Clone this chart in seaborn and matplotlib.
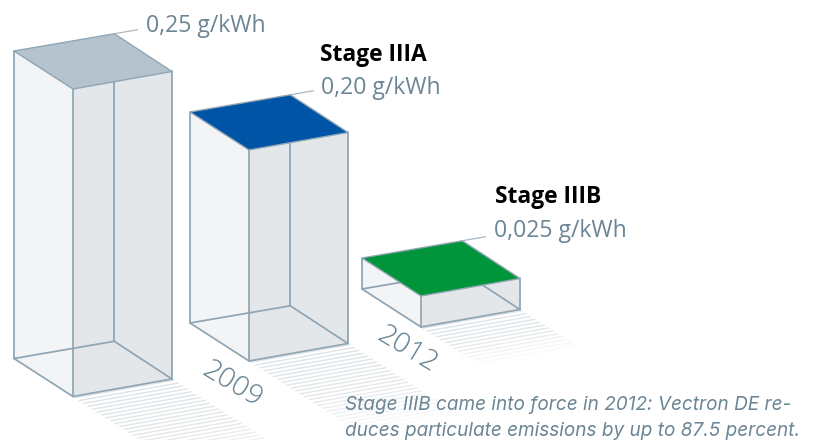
import numpy as np
import pandas as pd
import matplotlib
matplotlib.use("Agg")
import matplotlib.pyplot as plt
from matplotlib.colors import LinearSegmentedColormap
import seaborn as sns

# Particulate limits per emission stage
stage_names = ["", "Stage IIIA", "Stage IIIB"]
limits = [0.25, 0.20, 0.025]
limit_labels = ["0,25 g/kWh", "0,20 g/kWh", "0,025 g/kWh"]
year_labels = ["2009", "2012"]
note_lines = [
    "Stage IIIB came into force in 2012: Vectron DE re-",
    "duces particulate emissions by up to 87.5 percent.",
]

# Illustrative (not linear) height scale of the columns, in pixels
scale_limits = [0.0, 0.025, 0.20, 0.25]
scale_heights = [0.0, 31.0, 211.0, 307.5]

# Isometric layout: left floor corner of each column and the floor edge vectors
floor_corners = [(14.0, 358.5), (190.0, 323.0), (362.0, 289.0)]
edge_u = np.array([59.0, 38.0])
edge_v = np.array([99.0, -17.5])
back_shift = np.array([1.3, 0.3])
shadow_depth = [2.3, 2.0, 1.05]

# Text offsets measured from the top back corner of each column
value_offsets = [(32, -2), (31, -1), (32, -4)]
stage_offsets = [(0, 0), (30, -34), (33, -38)]
year_anchors = [(232, 385), (407, 350)]

LINE = "#8fa5b4"
LEFT_FACE = "#f3f4f6"
RIGHT_FACE = "#e3e7ea"
TEXT = "#6b8595"
top_colors = ["#b5c3ce", "#0054a6", "#00953b"]

sns.set_theme(style="white")
plt.rcParams["font.family"] = ["Open Sans", "DejaVu Sans"]

fig = plt.figure(figsize=(8.21, 4.40), dpi=100)
ax = fig.add_axes([0, 0, 1, 1])
ax.set_xlim(0, 821)
ax.set_ylim(440, 0)
ax.axis("off")

fade = LinearSegmentedColormap.from_list("fade", ["#dde3e7", "#e4e8eb", "#ffffff"])


def draw_segments(segments, **kwargs):
    """Draw independent line pieces through seaborn."""
    rows = [
        {"seg": i, "x": p[0], "y": p[1]}
        for i, pair in enumerate(segments)
        for p in pair
    ]
    sns.lineplot(
        data=pd.DataFrame(rows), x="x", y="y", units="seg", estimator=None,
        sort=False, legend=False, ax=ax, **kwargs,
    )


for i, limit in enumerate(limits):
    height = float(np.interp(limit, scale_limits, scale_heights))
    up = np.array([0.0, -height])
    left = np.array(floor_corners[i])
    front = left + edge_u
    right = front + edge_v
    back = left + edge_v + back_shift

    # Fading ground hatch that trails away from the front edge
    steps = np.arange(0.03, shadow_depth[i], 0.076)
    rows = []
    for k, s in enumerate(steps):
        for p in (front + s * edge_u, right + s * edge_u):
            rows.append({"seg": k, "x": p[0], "y": p[1], "shade": s / shadow_depth[i]})
    sns.lineplot(
        data=pd.DataFrame(rows), x="x", y="y", units="seg", estimator=None,
        sort=False, legend=False, hue="shade", palette=fade, hue_norm=(0, 1),
        lw=1.0, ax=ax, zorder=1,
    )

    # Side faces
    ax.fill(*zip(left, front, front + up, left + up), color=LEFT_FACE, lw=0, zorder=2)
    ax.fill(*zip(front, right, right + up, front + up), color=RIGHT_FACE, lw=0, zorder=2)

    # Wireframe
    edges = [
        (left, front), (front, right), (left, back), (back, right),
        (left, left + up), (front, front + up), (right, right + up),
        (back, back + up),
    ]
    draw_segments(edges, color=LINE, lw=1.25, zorder=3)

    # Coloured top
    ax.fill(
        *zip(left + up, front + up, right + up, back + up),
        facecolor=top_colors[i], edgecolor=LINE, lw=1.0, zorder=4,
    )

    # Leader line and value text
    corner = back + up
    draw_segments([(corner, corner + 0.235 * edge_v)], color="#a9b9c4", lw=0.9, zorder=4)
    dx, dy = value_offsets[i]
    ax.text(corner[0] + dx, corner[1] + dy, limit_labels[i], color=TEXT, fontsize=16.6,
            ha="left", va="baseline")
    if stage_names[i]:
        dx, dy = stage_offsets[i]
        ax.text(corner[0] + dx, corner[1] + dy, stage_names[i], color="black", fontsize=16.4,
                fontweight="bold", ha="left", va="baseline")

# Year labels run along the floor direction
for (x, y), label in zip(year_anchors, year_labels):
    ax.text(x, y, label, color="#5f7b8c", fontsize=20.5, rotation=-31, rotation_mode="anchor",
            ha="center", va="center", fontweight="light")

# Closing note
for y, line in zip((410, 436.5), note_lines):
    ax.text(345, y, line, color=TEXT, fontsize=13.65, fontstyle="italic",
            family=["Inter", "DejaVu Sans"], ha="left", va="baseline", zorder=6)

fig.savefig("out.png", dpi=100)
